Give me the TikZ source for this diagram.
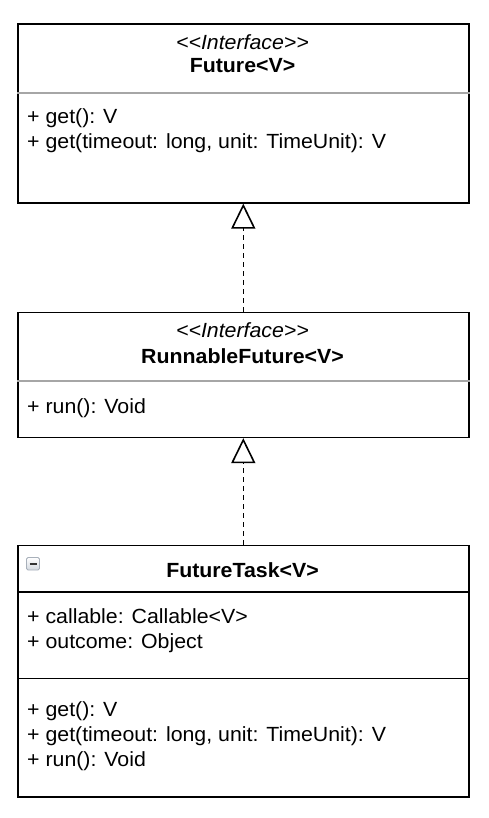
\documentclass[tikz,border=0pt]{standalone}
\usepackage{fontspec}
\setmainfont{Liberation Sans}[FakeStretch=1.04]
\usetikzlibrary{arrows.meta}
\definecolor{iconborder}{HTML}{A8B0BA}
\definecolor{iconfill}{HTML}{D3D9E0}
\begin{document}
\begin{tikzpicture}[x=1pt,y=-1pt,
  umlbox/.style={draw=black, line width=1.6pt, fill=white, minimum width=451pt, anchor=north west, inner sep=0pt},
  txt/.style={inner sep=0pt, font=\fontsize{20.5}{24}\selectfont},
  stereo/.style={txt, anchor=base, font=\fontsize{20.5}{24}\selectfont\itshape},
  title/.style={txt, anchor=base, font=\fontsize{20.5}{24}\selectfont\bfseries},
  member/.style={txt, anchor=base west},
  graydiv/.style={draw=black!35, line width=1.6pt},
  blackdiv/.style={draw=black, line width=1.6pt},
  realize/.style={dashed, dash pattern=on 5pt off 4pt, line width=1.6pt, -{Triangle[open, length=25pt, width=24pt, line width=1.6pt]}}
]
\useasboundingbox (0,0) rectangle (488,818);

% Future<V>
\node[umlbox, minimum height=179pt] (future) at (17,23) {};
\node[stereo] (futureS) at (242.5,50) {<\kern0pt<Interface>\kern0pt>};
\node[title] (futureT) at (242.5,73) {Future<V>};
\draw[graydiv] (future.west |- 0,93.3) -- (future.east |- 0,93.3);
\node[member] (fm1) at (27,124) {+ get(): V};
\node[member] (fm2) at (27,149) {+ get(timeout: long, unit: TimeUnit): V};

% RunnableFuture<V>
\node[umlbox, minimum height=125pt] (runnable) at (17,311.5) {};
\node[stereo] (runS) at (242.5,337.5) {<\kern0pt<Interface>\kern0pt>};
\node[title] (runT) at (242.5,363) {RunnableFuture<V>};
\draw[graydiv] (runnable.west |- 0,381) -- (runnable.east |- 0,381);
\node[member] (rm1) at (27,413) {+ run(): Void};

% FutureTask<V>
\node[umlbox, minimum height=251.5pt] (task) at (17,544.5) {};
\node[title] (taskT) at (242.5,577) {FutureTask<V>};
\shade[top color=white, bottom color=iconfill, draw=iconborder, line width=0.9pt, rounded corners=1.5pt] (26.5,557.5) rectangle (39.5,570);
\draw[line width=2pt, black!80] (29.5,563.8) -- (36.5,563.8);
\draw[blackdiv] (task.west |- 0,592) -- (task.east |- 0,592);
\node[member] (tf1) at (27,623.5) {+ callable: Callable<V>};
\node[member] (tf2) at (27,648.5) {+ outcome: Object};
\draw[blackdiv] (task.west |- 0,678.5) -- (task.east |- 0,678.5);
\node[member] (tm1) at (27,716.5) {+ get(): V};
\node[member] (tm2) at (27,741.5) {+ get(timeout: long, unit: TimeUnit): V};
\node[member] (tm3) at (27,766.5) {+ run(): Void};

% realizations
\draw[realize] (runnable.north) -- (future.south);
\draw[realize] (task.north) -- (runnable.south);
\end{tikzpicture}
\end{document}
